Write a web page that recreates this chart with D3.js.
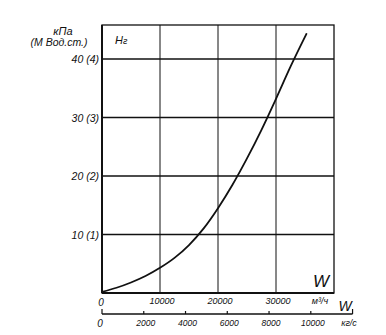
<!DOCTYPE html>
<html>
<head>
<meta charset="utf-8">
<script src="https://cdn.jsdelivr.net/npm/d3@7"></script>
<style>
  html, body { margin: 0; padding: 0; background: #fff; }
  svg { display: block; }
  text { font-family: "Liberation Sans", "DejaVu Sans", sans-serif; font-style: italic; fill: #111; }
</style>
</head>
<body>
<svg id="chart" width="386" height="335"></svg>
<script>
// Flow rate, m³/h
const flowM3h = [0, 2500, 5000, 7500, 10000, 12500, 15000, 17500, 20000, 22500, 25000, 27500, 30000, 32500, 35300];
// Head Hг, kPa (tens of m water column)
const headKPa = [0.2, 0.9, 1.8, 2.9, 4.3, 6.0, 8.2, 11.0, 14.5, 18.5, 23.0, 27.9, 33.2, 38.7, 44.4];

const xTicks = [10000, 20000, 30000];
const xTickLabels = ["10000", "20000", "30000"];
const yTicks = [10, 20, 30, 40];
const yTickLabels = ["10 (1)", "20 (2)", "30 (3)", "40 (4)"];
const kgsTicks = [2000, 4000, 6000, 8000, 10000, 12000];
const kgsTickLabels = ["2000", "4000", "6000", "8000", "10000"];

const svg = d3.select("#chart");
const ink = "#111";

const plotL = 102, plotR = 334, plotT = 25, plotB = 293;

const x = d3.scaleLinear().domain([0, 40000]).range([plotL, plotR]);
const y = d3.scaleLinear().domain([0, 40]).range([plotB, 59]);
// secondary mass-flow scale: kg/s = m³/h / 3.6
const xk = d3.scaleLinear().domain([0, 40000 / 3.6]).range([plotL, plotR]);

// grid
const g = svg.append("g");
g.selectAll("line.v").data(xTicks).join("line")
  .attr("x1", d => x(d)).attr("x2", d => x(d))
  .attr("y1", plotT).attr("y2", plotB)
  .attr("stroke", ink).attr("stroke-width", 1);
g.selectAll("line.h").data(yTicks).join("line")
  .attr("x1", plotL).attr("x2", plotR)
  .attr("y1", d => y(d)).attr("y2", d => y(d))
  .attr("stroke", ink).attr("stroke-width", 1.5);

// frame
g.append("rect").attr("x", plotL).attr("y", plotT)
  .attr("width", plotR - plotL).attr("height", plotB - plotT)
  .attr("fill", "none").attr("stroke", ink).attr("stroke-width", 1.3);
g.append("line").attr("x1", plotL).attr("x2", plotL).attr("y1", plotT).attr("y2", plotB)
  .attr("stroke", ink).attr("stroke-width", 2);
g.append("line").attr("x1", plotL).attr("x2", plotR).attr("y1", plotB).attr("y2", plotB)
  .attr("stroke", ink).attr("stroke-width", 2);

// y tick labels
svg.selectAll("text.yl").data(yTicks).join("text")
  .attr("x", plotL - 3).attr("y", d => y(d) + 4)
  .attr("text-anchor", "end").attr("font-size", 10.5)
  .text((d, i) => yTickLabels[i]);

// y title
svg.append("text").attr("x", 63).attr("y", 35).attr("text-anchor", "middle")
  .attr("font-size", 11).text("кПа");
svg.append("text").attr("x", 59).attr("y", 46).attr("text-anchor", "middle")
  .attr("font-size", 10.5).text("(М Вод.ст.)");

// curve name
const hn = svg.append("text").attr("x", 115).attr("y", 44).attr("font-size", 11);
hn.append("tspan").text("Н");
hn.append("tspan").attr("font-size", 9).text("г");

// x tick labels (m³/h)
svg.append("text").attr("x", x(0) - 1).attr("y", 306).attr("text-anchor", "middle")
  .attr("font-size", 10).text("0");
svg.selectAll("text.xl").data(xTicks).join("text")
  .attr("x", d => x(d) + 2).attr("y", 304)
  .attr("text-anchor", "middle").attr("font-size", 9)
  .text((d, i) => xTickLabels[i]);
svg.append("text").attr("x", 320).attr("y", 304).attr("text-anchor", "middle")
  .attr("font-size", 9).text("м³/ч");
svg.append("text").attr("x", 321).attr("y", 287).attr("text-anchor", "middle")
  .attr("font-size", 17).attr("font-style", "normal").text("W");

// secondary axis (kg/s)
const ay = 314;
svg.append("line").attr("x1", xk(0)).attr("x2", xk(12000)).attr("y1", ay).attr("y2", ay)
  .attr("stroke", ink).attr("stroke-width", 1.3);
svg.selectAll("line.kt").data([0].concat(kgsTicks)).join("line")
  .attr("x1", d => xk(d)).attr("x2", d => xk(d))
  .attr("y1", ay).attr("y2", d => d === 12000 || d === 0 ? ay - 5 : ay - 3)
  .attr("stroke", ink).attr("stroke-width", 1.2);
svg.append("text").attr("x", xk(0) - 2).attr("y", 327).attr("text-anchor", "middle")
  .attr("font-size", 10).text("0");
svg.selectAll("text.kl").data(kgsTicks.slice(0, 5)).join("text")
  .attr("x", d => xk(d) + 2).attr("y", 326)
  .attr("text-anchor", "middle").attr("font-size", 8.5)
  .text((d, i) => kgsTickLabels[i]);
svg.append("text").attr("x", 349).attr("y", 326).attr("text-anchor", "middle")
  .attr("font-size", 9).text("кг/с");
svg.append("text").attr("x", 345).attr("y", 311).attr("text-anchor", "middle")
  .attr("font-size", 14).text("W");

// head curve
const line = d3.line().x((d, i) => x(flowM3h[i])).y(d => y(d)).curve(d3.curveMonotoneX);
svg.append("path").datum(headKPa).attr("d", line)
  .attr("fill", "none").attr("stroke", ink).attr("stroke-width", 1.8);
</script>
</body>
</html>
